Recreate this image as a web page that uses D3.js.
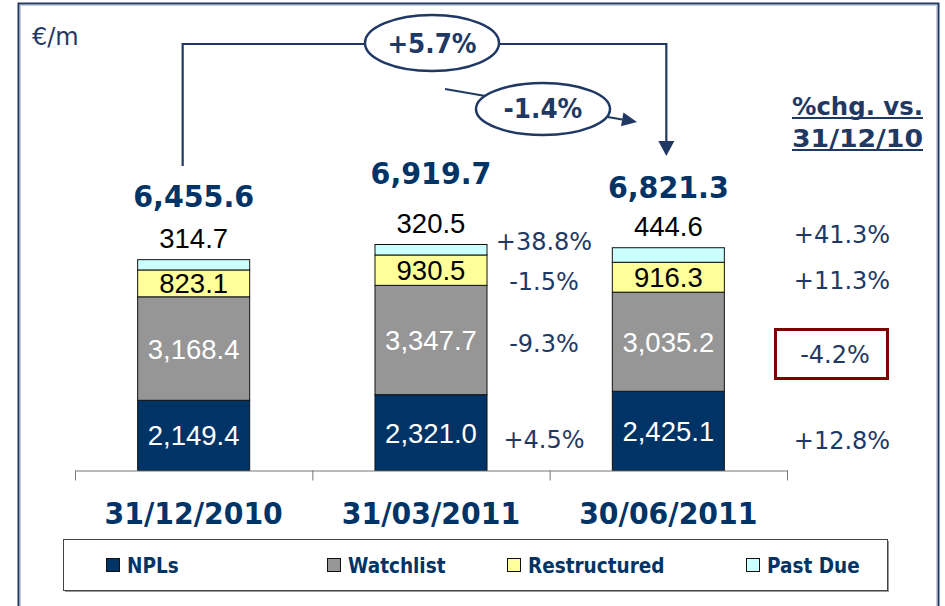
<!DOCTYPE html>
<html>
<head>
<meta charset="utf-8">
<script src="https://cdn.jsdelivr.net/npm/d3@7"></script>
<style>
  html, body { margin: 0; padding: 0; background: #fff; }
  svg { display: block; }
</style>
</head>
<body>
<svg id="chart" width="945" height="606"></svg>
<script>
// ---- data ----
const categories = ["31/12/2010", "31/03/2011", "30/06/2011"];
const seriesNames = ["NPLs", "Watchlist", "Restructured", "Past Due"];
const npls = [2149.4, 2321.0, 2425.1];
const watchlist = [3168.4, 3347.7, 3035.2];
const restructured = [823.1, 930.5, 916.3];
const pastDue = [314.7, 320.5, 444.6];
const totals = [6455.6, 6919.7, 6821.3];
// change of the last quarter vs the previous one, in series order
const chgQoQ = ["+4.5%", "-9.3%", "-1.5%", "+38.8%"];
// change of the last quarter vs year end, in series order
const chgYtd = ["+12.8%", "-4.2%", "+11.3%", "+41.3%"];
const totalChgYtd = "+5.7%";
const totalChgQoQ = "-1.4%";
const unitLabel = "€/m";
const chgHeader = ["%chg. vs.", "31/12/10"];

// ---- layout & style ----
const navy = "#003366", ink = "#1F3864";
const fills = ["#003366", "#969696", "#FFFF99", "#CCFFFF"];
const labelInk = ["#ffffff", "#ffffff", "#000000", "#000000"];
const boldFont = "'DejaVu Sans', Verdana, sans-serif";
const numFont = "'Liberation Sans', Arial, sans-serif";
const plot = { left: 75, right: 787, base: 470.5 };
const pxPerUnit = 0.03266;
const totalLift = [53, 61, 50];      // gap between bar top and total label baseline
const qoqRowY = [448, 352, 290, 250]; // baselines of the middle change column
const ytdRowY = [449, 363, 289, 243]; // baselines of the right change column
const qoqX = 544, ytdX = 842;
const highlightSeries = 1;           // Watchlist change is boxed

const svg = d3.select("#chart");

// narrows a bold text run so it keeps a compact, heavy look
function condense(sel, k) {
  sel.each(function () {
    const w = this.getComputedTextLength();
    d3.select(this).attr("textLength", w * k).attr("lengthAdjust", "spacingAndGlyphs");
  });
}

// outer frame
svg.append("rect").attr("x", 18.5).attr("y", 3.5).attr("width", 920).attr("height", 620)
  .attr("fill", "none").attr("stroke", ink).attr("stroke-width", 2);
svg.append("rect").attr("x", 20.5).attr("y", 5.5).attr("width", 916).attr("height", 620)
  .attr("fill", "none").attr("stroke", "#c5cbd8").attr("stroke-width", 1);

// scales
const x = d3.scaleBand().domain(categories)
  .range([plot.left, plot.right]).paddingInner(0.528).paddingOuter(0.264);
const yMax = 7000;
const y = d3.scaleLinear().domain([0, yMax]).range([plot.base, plot.base - yMax * pxPerUnit]);

// stacked data
const rows = categories.map((c, i) => ({
  cat: c, "NPLs": npls[i], "Watchlist": watchlist[i],
  "Restructured": restructured[i], "Past Due": pastDue[i]
}));
const stacked = d3.stack().keys(seriesNames)(rows);
const fmt = d3.format(",.1f");

// bars
const layers = svg.append("g").selectAll("g").data(stacked).join("g")
  .attr("fill", (d, i) => fills[i]);
layers.selectAll("rect").data(d => d).join("rect")
  .attr("x", d => x(d.data.cat))
  .attr("width", x.bandwidth())
  .attr("y", d => y(d[1]))
  .attr("height", d => y(d[0]) - y(d[1]))
  .attr("stroke", "#111").attr("stroke-width", 1);

// segment labels (first three series inside, past due above the bar)
stacked.forEach((layer, si) => {
  svg.append("g").selectAll("text").data(layer).join("text")
    .attr("x", d => x(d.data.cat) + x.bandwidth() / 2)
    .attr("y", d => si < 3 ? (y(d[0]) + y(d[1])) / 2 + 10 : y(d[1]) - 12)
    .attr("text-anchor", "middle")
    .attr("font-family", numFont).attr("font-size", 27.5)
    .attr("fill", labelInk[si])
    .text(d => fmt(d[1] - d[0]));
});

// totals
svg.append("g").selectAll("text").data(totals).join("text")
  .attr("x", (d, i) => x(categories[i]) + x.bandwidth() / 2)
  .attr("y", (d, i) => y(d) - totalLift[i])
  .attr("text-anchor", "middle")
  .attr("font-family", boldFont).attr("font-weight", "bold").attr("font-size", 31)
  .attr("fill", navy)
  .text(d => fmt(d))
  .call(condense, 0.92);

// axis: baseline with ticks at the category boundaries
const edge = d3.scaleLinear().domain([0, categories.length]).range([plot.left, plot.right]);
const axis = svg.append("g").attr("transform", `translate(0,${plot.base})`)
  .call(d3.axisBottom(edge).tickValues(d3.range(categories.length + 1))
    .tickSize(10).tickSizeOuter(0).tickFormat(""));
axis.selectAll("path, line").attr("stroke", "#777").attr("stroke-width", 1);

// category labels
svg.append("g").selectAll("text").data(categories).join("text")
  .attr("x", d => x(d) + x.bandwidth() / 2)
  .attr("y", 524)
  .attr("text-anchor", "middle")
  .attr("font-family", boldFont).attr("font-weight", "bold").attr("font-size", 29.5)
  .attr("fill", navy)
  .text(d => d)
  .call(condense, 0.96);

// unit
svg.append("text").attr("x", 32).attr("y", 45)
  .attr("font-family", boldFont).attr("font-size", 24).attr("fill", ink)
  .text(unitLabel);

// bracket from first to last total
const cx0 = x(categories[0]) + x.bandwidth() / 2 - 11;
const cx2 = x(categories[2]) + x.bandwidth() / 2 - 2;
const bracketY = 44;
svg.append("path")
  .attr("d", `M${cx0},166 V${bracketY} H${cx2} V142`)
  .attr("fill", "none").attr("stroke", ink).attr("stroke-width", 2.2);
svg.append("path")
  .attr("d", `M${cx2 - 8},141 L${cx2 + 8},141 L${cx2},156 Z`)
  .attr("fill", ink);

// quarter-on-quarter arrow
const a0 = [445, 89], a1 = [637, 122];
const ang = Math.atan2(a1[1] - a0[1], a1[0] - a0[0]);
const back = [a1[0] - 15 * Math.cos(ang), a1[1] - 15 * Math.sin(ang)];
svg.append("line").attr("x1", a0[0]).attr("y1", a0[1]).attr("x2", back[0]).attr("y2", back[1])
  .attr("stroke", ink).attr("stroke-width", 2);
const nx = -Math.sin(ang), ny = Math.cos(ang);
svg.append("path")
  .attr("d", `M${a1[0]},${a1[1]} L${back[0] + 7 * nx},${back[1] + 7 * ny} L${back[0] - 7 * nx},${back[1] - 7 * ny} Z`)
  .attr("fill", ink);

// change bubbles
function bubble(cx, cy, rx, ry, label, base) {
  svg.append("ellipse").attr("cx", cx).attr("cy", cy).attr("rx", rx).attr("ry", ry)
    .attr("fill", "#fff").attr("stroke", ink).attr("stroke-width", 2.5);
  svg.append("text").attr("x", cx).attr("y", base)
    .attr("text-anchor", "middle")
    .attr("font-family", boldFont).attr("font-weight", "bold").attr("font-size", 26)
    .attr("fill", ink).text(label)
    .call(condense, 0.95);
}
bubble(432, 43, 67, 28, totalChgYtd, 53);
bubble(543, 109, 67, 26, totalChgQoQ, 118);

// change columns
const pctStyle = s => s.attr("text-anchor", "middle")
  .attr("font-family", boldFont).attr("font-size", 24).attr("fill", ink);
svg.append("g").selectAll("text").data(chgQoQ).join("text")
  .attr("x", qoqX).attr("y", (d, i) => qoqRowY[i]).call(pctStyle).text(d => d);
svg.append("g").selectAll("text").data(chgYtd).join("text")
  .attr("x", (d, i) => i === highlightSeries ? ytdX - 7 : ytdX)
  .attr("y", (d, i) => ytdRowY[i]).call(pctStyle).text(d => d);
svg.append("rect")
  .attr("x", 775.5).attr("y", 329.5).attr("width", 112).attr("height", 49)
  .attr("fill", "none").attr("stroke", "#800000").attr("stroke-width", 3);

// column header
chgHeader.forEach((t, i) => {
  const tx = svg.append("text").attr("x", 792).attr("y", 115 + i * 32)
    .attr("font-family", boldFont).attr("font-weight", "bold").attr("font-size", 25)
    .attr("fill", ink).text(t);
  const w = tx.node().getComputedTextLength();
  const target = 131;
  tx.attr("textLength", target).attr("lengthAdjust", "spacingAndGlyphs");
  svg.append("line").attr("x1", 792).attr("x2", 792 + target)
    .attr("y1", 118 + i * 32).attr("y2", 118 + i * 32)
    .attr("stroke", ink).attr("stroke-width", 2);
});

// legend
const lg = { x: 63, y: 539, w: 824, h: 51 };
svg.append("rect").attr("x", lg.x + 2).attr("y", lg.y + 2).attr("width", lg.w).attr("height", lg.h)
  .attr("fill", "#9a9a9a");
svg.append("rect").attr("x", lg.x + 0.5).attr("y", lg.y + 0.5).attr("width", lg.w).attr("height", lg.h)
  .attr("fill", "#fff").attr("stroke", "#444").attr("stroke-width", 1);
const legendX = [106, 327, 507, 746];
const items = svg.append("g").selectAll("g").data(seriesNames).join("g")
  .attr("transform", (d, i) => `translate(${legendX[i]},558)`);
items.append("rect").attr("x", 0.5).attr("y", 0.5).attr("width", 13).attr("height", 13)
  .attr("fill", (d, i) => fills[i]).attr("stroke", "#111").attr("stroke-width", 1);
items.append("text").attr("x", 21).attr("y", 14.5)
  .attr("font-family", boldFont).attr("font-weight", "bold").attr("font-size", 20.5)
  .attr("fill", navy).text(d => d)
  .call(condense, 0.9);
</script>
</body>
</html>
